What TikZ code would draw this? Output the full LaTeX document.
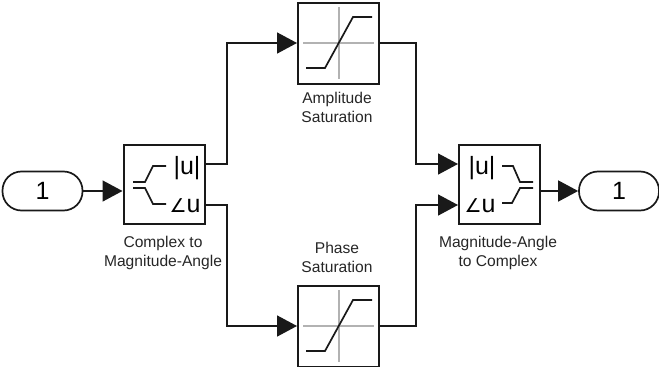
\documentclass[tikz,border=0pt]{standalone}
\usepackage{fontspec}
\setmainfont{Liberation Sans}
\newfontfamily\anglefont{DejaVu Sans}
\usetikzlibrary{positioning,arrows.meta}
\newcommand{\angsym}{{\anglefont\fontsize{19}{19}\selectfont ∠}}

\begin{document}
\begin{tikzpicture}[
  x=1pt,y=-1pt,
  font=\fontsize{15.6}{19}\selectfont,
  block/.style={rectangle,draw=black!90,line width=2pt,inner sep=0pt,minimum width=81pt,minimum height=79pt},
  satblock/.style={block,minimum height=81pt},
  port/.style={rectangle,rounded corners=19pt,draw=black!90,line width=1.7pt,inner sep=0pt,
               minimum width=80pt,minimum height=39pt,font=\fontsize{25}{25}\selectfont},
  caption/.style={align=center,inner sep=0pt,text=black!85},
  sig/.style={font=\fontsize{25}{25}\selectfont,inner sep=0pt,anchor=base},
  icon/.style={line width=1.7pt,black!90},
  axis/.style={line width=2pt,black!30},
  arr/.style={-{Triangle[length=20pt,width=21pt]},line width=1.6pt,black!90},
]
\useasboundingbox (0,0) rectangle (659,367);

% ports and the four blocks
\node[port] (in) at (42.5,191) {1};
\node[block] (c2m) at (164,184.5) {};
\node[satblock] (amp) at (338.5,43) {};
\node[satblock] (phase) at (338.5,326) {};
\node[block] (m2c) at (499.5,184.5) {};
\node[port] (out) at (619,191) {1};

% captions
\node[caption] (c2mlabel) at (163,252.5) {Complex to\\Magnitude-Angle};
\node[caption] (amplabel) at (337,107.5) {Amplitude\\Saturation};
\node[caption] (phaselabel) at (337,257.5) {Phase\\Saturation};
\node[caption] (m2clabel) at (498,252.5) {Magnitude-Angle\\to Complex};

% block texts
\node[sig] (c2mmag) at (187,174.5) {|u|};
\node[sig] (c2mang) at (185,212.5) {\angsym u};
\node[sig] (m2cmag) at (482,174.5) {|u|};
\node[sig] (m2cang) at (480,212.5) {\angsym u};

% split and merge icons
\draw[icon] (133,182) -- (145,182) -- (153,166) -- (166,166);
\draw[icon] (133,188) -- (145,188) -- (153,204) -- (166,204);
\draw[icon] (502,166) -- (513,166) -- (520,182) -- (533,182);
\draw[icon] (502,203) -- (512,203) -- (520,188) -- (533,188);

% saturation curves
\foreach \blk in {amp,phase} {
  \begin{scope}[shift={(\blk.center)}]
    \draw[axis] (-35.5,0) -- (35.5,0);
    \draw[axis] (0,-36) -- (0,36);
    \draw[icon] (-32.5,25) -- (-13.5,25) -- (14.5,-26) -- (33.5,-26);
  \end{scope}
}

% signal ports on the block sides
\coordinate (c2mtop) at (c2m.east |- 0,164);
\coordinate (c2mbot) at (c2m.east |- 0,205);
\coordinate (m2ctop) at (m2c.west |- 0,164);
\coordinate (m2cbot) at (m2c.west |- 0,205);
\coordinate (m2cout) at (m2c.east |- out.west);
\coordinate (c2min) at (c2m.west |- in.east);

\draw[arr] (in.east) -- (c2min);
\draw[arr] (c2mtop) -| (227,43) -- (amp.west);
\draw[arr] (c2mbot) -| (227,326) -- (phase.west);
\draw[arr] (amp.east) -| (416,164) -- (m2ctop);
\draw[arr] (phase.east) -| (416,205) -- (m2cbot);
\draw[arr] (m2cout) -- (out.west);
\end{tikzpicture}
\end{document}
